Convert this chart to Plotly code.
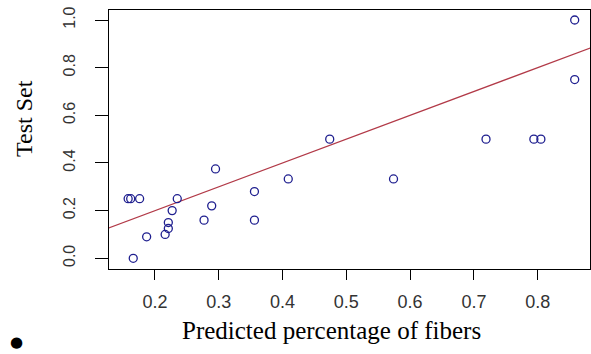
import plotly.graph_objects as go

# Data
predicted = [0.158, 0.162, 0.176, 0.166, 0.187, 0.216, 0.221, 0.221, 0.227, 0.235,
             0.277, 0.289, 0.295, 0.356, 0.356, 0.409, 0.474, 0.574, 0.719, 0.794,
             0.805, 0.858, 0.858]
test_set = [0.25, 0.25, 0.25, 0.0, 0.09, 0.10, 0.125, 0.15, 0.20, 0.25,
            0.16, 0.22, 0.375, 0.28, 0.16, 0.333, 0.50, 0.333, 0.50, 0.50,
            0.50, 1.0, 0.75]
fit_intercept = 0.0
fit_slope = 1.0

x_ticks = [0.2, 0.3, 0.4, 0.5, 0.6, 0.7, 0.8]
y_ticks = [0.0, 0.2, 0.4, 0.6, 0.8, 1.0]
x_range = [0.128, 0.882]
y_range = [-0.045, 1.042]

line_x = [x_range[0] - 0.05, x_range[1] + 0.05]
line_y = [fit_intercept + fit_slope * v for v in line_x]

fig = go.Figure()
fig.add_trace(go.Scatter(
    x=line_x, y=line_y, mode="lines",
    line=dict(color="#b23a48", width=1.2), hoverinfo="skip", showlegend=False))
fig.add_trace(go.Scatter(
    x=predicted, y=test_set, mode="markers",
    marker=dict(symbol="circle-open", size=8, color="#1f1f8f", line=dict(width=1.3)),
    showlegend=False))

fig.update_layout(
    width=591, height=354,
    margin=dict(l=109, r=1, t=10, b=85),
    paper_bgcolor="white", plot_bgcolor="white",
    font=dict(family="Liberation Sans, Arial, sans-serif", color="#333333"),
    xaxis=dict(range=x_range, tickvals=x_ticks, ticktext=[f"{v:.1f}" for v in x_ticks],
               showgrid=False, zeroline=False, showline=True, mirror=True,
               linecolor="black", linewidth=1, ticks="outside", ticklen=10,
               tickcolor="black", tickfont=dict(size=18, color="#333333"),
               ticklabelstandoff=6),
    yaxis=dict(range=y_range, tickvals=y_ticks, ticktext=[f"{v:.1f}" for v in y_ticks],
               showgrid=False, zeroline=False, showline=True, mirror=True,
               linecolor="black", linewidth=1, ticks="outside", ticklen=13,
               tickcolor="black", tickfont=dict(size=16, color="#333333"),
               tickangle=-90, ticklabelstandoff=14),
)

fig.add_annotation(text="Predicted percentage of fibers", xref="paper", yref="paper",
                   x=(331 - 109) / 481, y=-(330 - 269) / 259, xanchor="center", yanchor="middle",
                   showarrow=False, font=dict(family="Liberation Serif, Times New Roman, serif",
                                              size=25, color="black"))
fig.add_annotation(text="Test Set", xref="paper", yref="paper",
                   x=-(109 - 24) / 481, y=(269 - 119) / 259, xanchor="center", yanchor="middle",
                   textangle=-90, showarrow=False,
                   font=dict(family="Liberation Serif, Times New Roman, serif", size=24, color="black"))
fig.add_annotation(text="●", xref="paper", yref="paper",
                   x=-(109 - 16) / 481, y=-(342 - 269) / 259, xanchor="center", yanchor="middle",
                   showarrow=False, font=dict(family="DejaVu Sans, sans-serif", size=15, color="black"))

fig.write_html("out.html", config={"displayModeBar": False})

# remove default page margin so the figure sits at the window's top-left corner
with open("out.html", "r", encoding="utf-8") as f:
    html = f.read()
html = html.replace("<head>", "<head><style>html,body{margin:0;padding:0;overflow:hidden;}</style>", 1)
with open("out.html", "w", encoding="utf-8") as f:
    f.write(html)
